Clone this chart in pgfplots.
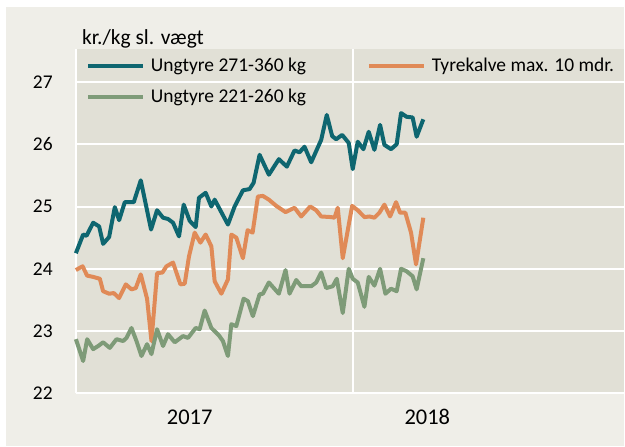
\documentclass[border=0pt]{standalone}
\usepackage{fontspec}
\setmainfont{Carlito}
\usepackage{pgfplots}
\pgfplotsset{compat=1.18}
\usetikzlibrary{calc,backgrounds}
\definecolor{outerbg}{HTML}{EFEEE8}
\definecolor{plotbg}{HTML}{E1E0D6}
\definecolor{teal1}{HTML}{0E6670}
\definecolor{orange1}{HTML}{E08A57}
\definecolor{green1}{HTML}{7E9B78}
\begin{document}
\begin{tikzpicture}[x=1pt,y=1pt]
\begin{axis}[
  width=549pt, height=345pt, scale only axis,
  xmin=0, xmax=549, ymin=22, ymax=27.53,
  axis background/.style={fill=plotbg},
  axis x line*=bottom, axis y line*=left,
  axis line style={white, line width=2pt},
  ytick={22,23,24,25,26,27},
  xtick={278}, xticklabels={},
  extra x ticks={114,352}, extra x tick labels={2017,2018},
  extra x tick style={grid=none, tick label style={font=\fontsize{22.5}{27}\selectfont, inner sep=0pt, yshift=-16pt}},
  major tick length=0pt,
  ymajorgrids, xmajorgrids,
  grid style={white, line width=2pt},
  tick label style={font=\fontsize{19.5}{23}\selectfont},
  /pgf/number format/assume math mode=true,
  yticklabel style={inner sep=0pt, xshift=-23pt},
  clip=false,
  legend columns=2,
  legend cell align=left,
  legend image code/.code={\draw[#1] (0pt,0pt) -- (55pt,0pt);},
  legend style={at={(axis description cs:0,1)}, anchor=north west, xshift=10pt, yshift=-9pt,
    draw=none, fill=none, font=\fontsize{19.5}{23}\selectfont,
    inner xsep=0pt, inner ysep=0pt, nodes={inner sep=0pt},
    row sep=16pt,
    /tikz/every odd column/.append style={column sep=6pt},
    /tikz/every even column/.append style={column sep=61pt}},
  every axis plot/.append style={line width=4pt, line join=round, no markers},
]
\coordinate (A) at (axis cs:0,22);
\addplot[teal1] table {
x y
0 24.25
7.3 24.55
10.7 24.53
17.3 24.74
23.3 24.68
27.3 24.40
33.3 24.51
39 24.99
43.3 24.78
49 25.07
58 25.07
65 25.42
75.3 24.63
81.3 24.94
87.3 24.82
92.3 24.80
97.3 24.74
103.3 24.52
108 25.03
114 24.77
120 24.67
123.3 25.14
130 25.22
135.7 25.00
139 25.11
152.3 24.71
159 25.00
167.3 25.26
174 25.28
178 25.38
184 25.83
193.3 25.51
203.3 25.76
211.3 25.64
219 25.90
224 25.87
229 25.96
235.7 25.71
245.7 26.07
251.3 26.47
256.7 26.13
260.7 26.08
266.7 26.15
273.3 26.02
277.3 25.60
282.3 26.04
288 25.92
293.3 26.20
299 25.91
304.7 26.31
309 25.99
315.7 25.92
321.3 26.00
325.7 26.50
331.3 26.44
337.3 26.43
341.3 26.12
348 26.40
};
\addlegendentry{Ungtyre 271-360 kg}
\addplot[orange1] table {
x y
0 23.98
6.7 24.04
11.3 23.89
17.3 23.87
24 23.84
27.3 23.64
33.3 23.60
38 23.61
43.3 23.53
50 23.75
55.7 23.67
60 23.69
65 23.91
71.3 23.52
75.7 22.84
81.3 23.93
86.7 23.94
90.7 24.04
97.3 24.10
104.7 23.75
109 23.76
113.3 24.20
119 24.58
124.7 24.42
130 24.55
135.7 24.36
139 23.80
145.7 23.60
152.3 23.83
155.7 24.55
160.7 24.50
167.3 24.17
172 24.62
177 24.58
182.3 25.16
187.3 25.17
193.3 25.11
200.7 25.01
210 24.91
219 24.98
225.7 24.84
234.7 25.00
240.7 24.94
245.7 24.84
255.7 24.83
259 24.82
262.3 24.98
267.3 24.17
276.7 25.01
282.3 24.94
289 24.83
294 24.84
299 24.82
304 24.90
309 25.03
314.7 24.84
320.7 25.07
324.7 24.90
330 24.90
335.7 24.58
340.7 24.07
348 24.82
};
\addlegendentry{Tyrekalve max. 10 mdr.}
\addplot[green1] table {
x y
0 22.87
7.3 22.52
11.3 22.87
17.3 22.71
22.3 22.76
27.3 22.82
34 22.73
40.7 22.87
47.3 22.84
50.7 22.89
55.7 23.05
60.7 22.84
65.7 22.60
71.3 22.79
75.7 22.63
81.3 23.03
87.3 22.76
92.3 22.95
99 22.82
107.3 22.92
112.3 22.89
120 23.05
124 23.03
129 23.33
135.7 23.05
143.3 22.93
147.3 22.84
152.3 22.60
155.7 23.11
160.7 23.08
168 23.52
172.3 23.48
177.3 23.24
184 23.59
187.3 23.60
193.3 23.78
203.3 23.60
210 23.98
214 23.60
220.7 23.82
225.7 23.72
235.7 23.72
240.7 23.78
245.7 23.94
250.7 23.69
257.3 23.72
261.3 23.84
267.3 23.29
273.3 24.00
277.3 23.84
282.3 23.78
289 23.39
293.3 23.87
299 23.73
304.7 24.00
310 23.60
315.7 23.68
321.3 23.64
325.7 24.00
331.3 23.96
337.3 23.88
341.3 23.67
348 24.17
};
\addlegendentry{Ungtyre 221-260 kg}
\end{axis}
\begin{scope}[on background layer]
\fill[white] ($(A)+(-76,-53)$) rectangle ($(A)+(549,394)$);
\fill[outerbg] ($(A)+(-70,-53)$) rectangle ($(A)+(549,387)$);
\end{scope}
\node[anchor=base west, inner sep=0pt, font=\fontsize{21.5}{25}\selectfont] at ($(A)+(6,349)$) {kr./kg sl. vægt};
\end{tikzpicture}
\end{document}
